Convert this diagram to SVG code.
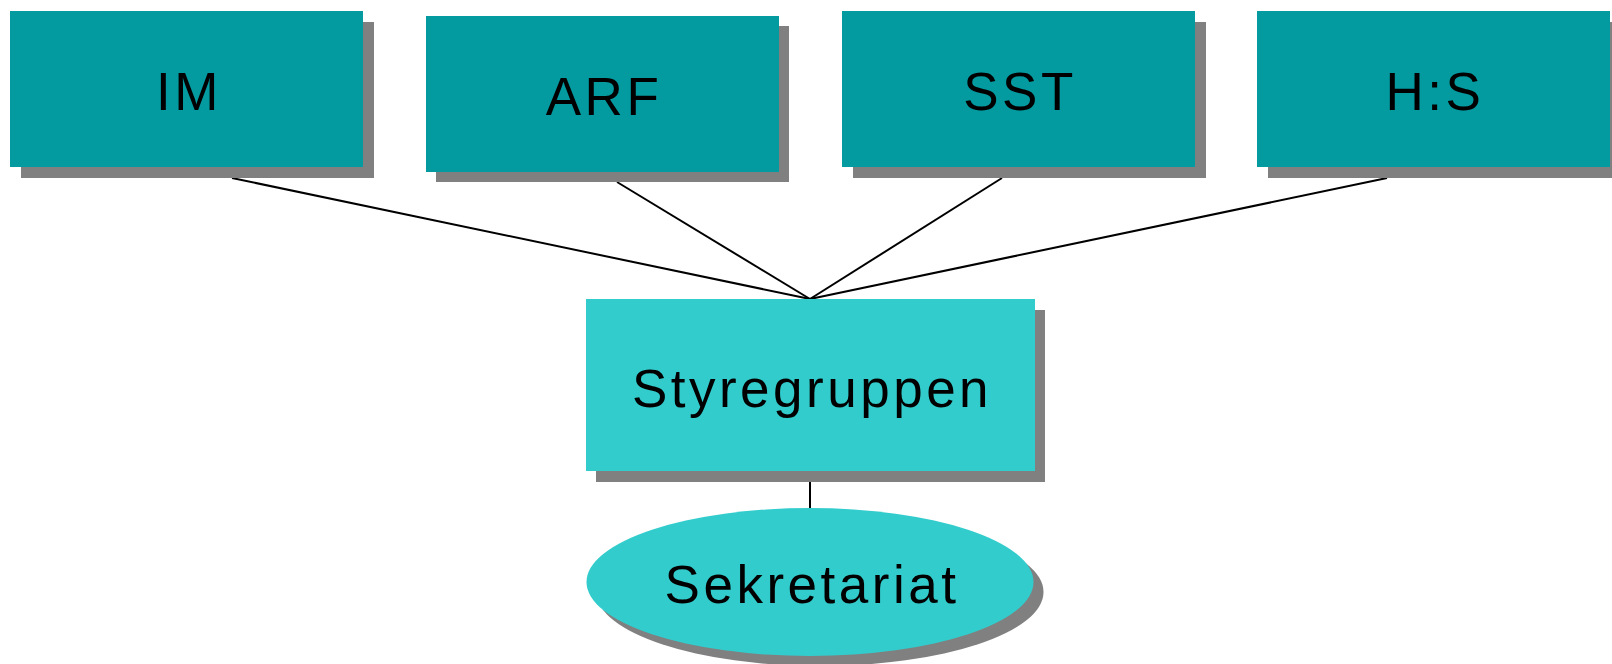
<svg xmlns="http://www.w3.org/2000/svg" width="1612" height="664" viewBox="0 0 1612 664">
<style>
.shadow{fill:#808080}
.top{fill:#039aa0}
.light{fill:#33cccc}
.lbl{font-family:"Liberation Sans",Arial,sans-serif;font-size:53px;fill:#000;text-anchor:middle;letter-spacing:3.5px}
.conn{stroke:#000;stroke-width:2;fill:none}
</style>
<rect width="1612" height="664" fill="#fff"/>
<g id="connectors">
<line class="conn" x1="232" y1="178" x2="810" y2="299"/>
<line class="conn" x1="617" y1="182" x2="810" y2="299"/>
<line class="conn" x1="1002" y1="178" x2="810" y2="299"/>
<line class="conn" x1="1387" y1="178" x2="810" y2="299"/>
<line class="conn" x1="810" y1="482" x2="810" y2="508"/>
</g>
<g id="node-IM">
<rect class="shadow" x="21" y="22" width="353" height="156"/>
<rect class="top" x="10" y="11" width="353" height="156"/>
<text class="lbl" x="189" y="110">IM</text>
</g>
<g id="node-ARF">
<rect class="shadow" x="436" y="26" width="353" height="156"/>
<rect class="top" x="426" y="16" width="353" height="156"/>
<text class="lbl" x="604" y="115">ARF</text>
</g>
<g id="node-SST">
<rect class="shadow" x="853" y="22" width="353" height="156"/>
<rect class="top" x="842" y="11" width="353" height="156"/>
<text class="lbl" x="1020" y="110">SST</text>
</g>
<g id="node-HS">
<rect class="shadow" x="1268" y="22" width="353" height="156"/>
<rect class="top" x="1257" y="11" width="353" height="156"/>
<text class="lbl" x="1435" y="110">H:S</text>
</g>
<g id="node-Styregruppen">
<rect class="shadow" x="596" y="310" width="449" height="172"/>
<rect class="light" x="586" y="299" width="449" height="172"/>
<text class="lbl" x="812" y="407">Styregruppen</text>
</g>
<g id="node-Sekretariat">
<ellipse class="shadow" cx="820" cy="592" rx="223.5" ry="74"/>
<ellipse class="light" cx="810" cy="582" rx="223.5" ry="74"/>
<text class="lbl" x="812" y="603">Sekretariat</text>
</g>
</svg>
